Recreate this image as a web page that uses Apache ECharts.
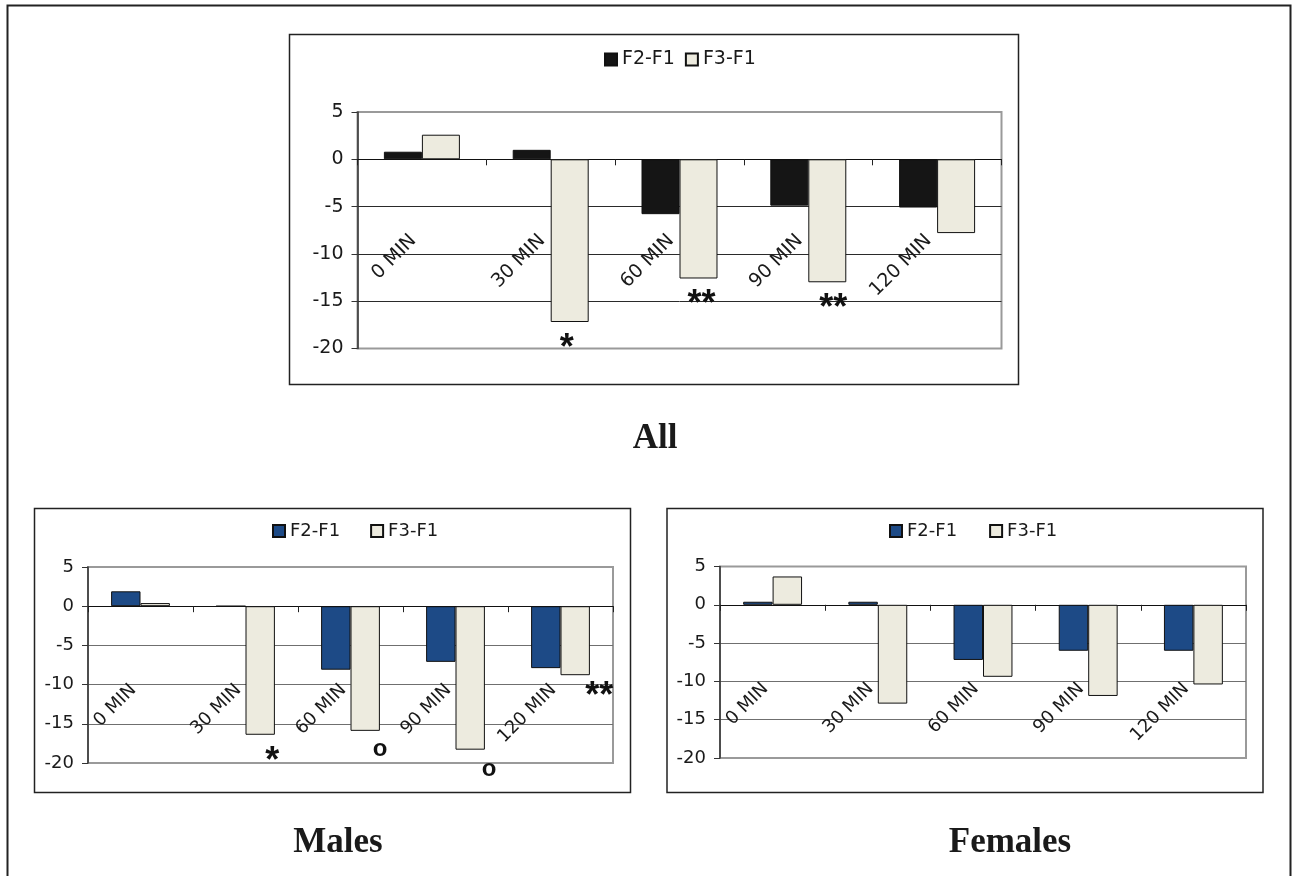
<!DOCTYPE html>
<html>
<head>
<meta charset="utf-8">
<style>
  html, body { margin: 0; padding: 0; background: #fff; }
  #c { width: 1292px; height: 876px; }
</style>
<script src="https://cdn.jsdelivr.net/npm/echarts@6/dist/echarts.min.js"></script>
</head>
<body>
<div id="c"></div>
<script>
// ---- data ----
const categories = ['0 MIN', '30 MIN', '60 MIN', '90 MIN', '120 MIN'];
const seriesNames = ['F2-F1', 'F3-F1'];
const yTicks = [-20, -15, -10, -5, 0, 5];

const allF2 = [0.8, 1.0, -5.8, -4.9, -5.1];
const allF3 = [2.6, -17.2, -12.6, -13.0, -7.8];
const maleF2 = [1.9, 0, -8.1, -7.1, -7.9];
const maleF3 = [0.4, -16.4, -15.9, -18.3, -8.8];
const femaleF2 = [0.4, 0.4, -7.2, -6.0, -6.0];
const femaleF3 = [3.7, -12.9, -9.4, -11.9, -10.4];

const allMarks = ['', '*', '**', '**', ''];
const maleMarks = ['', '*', 'o', 'o', '**'];
const femaleMarks = ['', '', '', '', ''];

const panelTitles = ['All', 'Males', 'Females'];

// ---- styles / layout ----
const FONT = 'DejaVu Sans, Verdana, sans-serif';
const MARKFONT = 'Liberation Sans, Arial, sans-serif';
const SERIF = 'Liberation Serif, Times New Roman, serif';
const BEIGE = '#edebdf';

const panels = [
  { key: 'All', f2: allF2, f3: allF3, marks: allMarks, f2Color: '#151515',
    grid: { left: 357.5, top: 112, width: 644, height: 236.5 },
    fs: 19, labelGap: 70, labelPad: 12, grid2: '#2a2a2a', gap: '41%',
    legend: { left: 599, top: 45, itemGap: 10 },
    markOffsets: [null, [-3, 7], [3, 7], [6, 7], null] },
  { key: 'Males', f2: maleF2, f3: maleF3, marks: maleMarks, f2Color: '#1d4a86',
    grid: { left: 88, top: 567, width: 525, height: 196 },
    fs: 18, labelGap: 74, labelPad: 10, grid2: '#6f6f6f', gap: '44%',
    legend: { left: 267, top: 517, itemGap: 30 },
    markOffsets: [null, [12, 7], [15, 3], [19, 4], [24, 2]] },
  { key: 'Females', f2: femaleF2, f3: femaleF3, marks: femaleMarks, f2Color: '#1d4a86',
    grid: { left: 720, top: 566.5, width: 526, height: 191.5 },
    fs: 18, labelGap: 74, labelPad: 10, grid2: '#6f6f6f', gap: '44%',
    legend: { left: 884, top: 517, itemGap: 32 },
    markOffsets: [null, null, null, null, null] }
];

const yMin = yTicks[0], yMax = yTicks[yTicks.length - 1];
const grids = [], xAxes = [], yAxes = [], series = [], legends = [];

panels.forEach((p, i) => {
  grids.push(Object.assign({ show: true, borderColor: '#9a9a9a', borderWidth: 2, backgroundColor: 'transparent',
    outerBoundsMode: 'none', containLabel: false }, p.grid));
  // labels hang from the zero line: convert gap below zero into a margin from the grid bottom
  const zeroToBottom = p.grid.height * (0 - yMin) / (yMax - yMin);
  xAxes.push({
    type: 'category', gridIndex: i, data: categories,
    axisLine: { onZero: true, lineStyle: { color: '#111', width: 1 } },
    axisTick: { show: true, length: 6, lineStyle: { color: '#222' } },
    axisLabel: { interval: 0, rotate: 45, margin: p.labelGap - zeroToBottom, padding: [0, p.labelPad, 0, 0],
      fontSize: p.fs, color: '#1a1a1a', fontFamily: FONT },
    splitLine: { show: false }
  });
  const splitColors = yTicks.map((t, k) => (k === 0 || k === yTicks.length - 1) ? '#9a9a9a' : p.grid2);
  yAxes.push({
    type: 'value', gridIndex: i, min: yMin, max: yMax, interval: 5,
    axisLine: { show: true, lineStyle: { color: '#333', width: 1.5 } },
    axisTick: { show: true, length: 6, lineStyle: { color: '#333' } },
    axisLabel: { margin: 14, fontSize: p.fs, color: '#1a1a1a', fontFamily: FONT },
    splitLine: { show: true, lineStyle: { color: splitColors, width: 1 } }
  });
  const n2 = p.key + '|' + seriesNames[0];
  const n3 = p.key + '|' + seriesNames[1];
  series.push({
    name: n2, type: 'bar', xAxisIndex: i, yAxisIndex: i, data: p.f2,
    barGap: '0%', barCategoryGap: p.gap,
    itemStyle: { color: p.f2Color, borderColor: '#111', borderWidth: 1 },
    emphasis: { disabled: true }
  });
  series.push({
    name: n3, type: 'bar', xAxisIndex: i, yAxisIndex: i,
    barGap: '0%', barCategoryGap: p.gap,
    data: p.f3.map((v, k) => {
      const m = p.marks[k];
      if (!m) return v;
      const isO = m === 'o';
      return {
        value: v,
        label: {
          show: true, formatter: m, position: 'bottom', distance: isO ? 4 : 2,
          offset: p.markOffsets[k] || [0, 0],
          fontSize: isO ? 24 : 36, fontWeight: 'bold', color: '#111', fontFamily: MARKFONT
        }
      };
    }),
    itemStyle: { color: BEIGE, borderColor: '#111', borderWidth: 1 },
    emphasis: { disabled: true }
  });
  legends.push({
    data: [n2, n3], left: p.legend.left, top: p.legend.top, itemGap: p.legend.itemGap,
    itemWidth: 12, itemHeight: 12, icon: 'rect', selectedMode: false,
    formatter: name => name.split('|')[1],
    textStyle: { fontSize: p.fs, color: '#1a1a1a', fontFamily: FONT }
  });
});

const chart = echarts.init(document.getElementById('c'), null, { renderer: 'canvas', width: 1292, height: 876 });
chart.setOption({
  animation: false,
  backgroundColor: '#fff',
  grid: grids, xAxis: xAxes, yAxis: yAxes, series: series, legend: legends,
  graphic: [
    { type: 'polyline', silent: true, shape: { points: [[7.5, 876], [7.5, 5.5], [1290.5, 5.5], [1290.5, 876]] },
      style: { fill: null, stroke: '#222', lineWidth: 2 } },
    { type: 'rect', silent: true, shape: { x: 289.5, y: 34.5, width: 729, height: 350 },
      style: { fill: null, stroke: '#222', lineWidth: 1.5 } },
    { type: 'rect', silent: true, shape: { x: 34.5, y: 508.5, width: 596, height: 284 },
      style: { fill: null, stroke: '#222', lineWidth: 1.5 } },
    { type: 'rect', silent: true, shape: { x: 667, y: 508.5, width: 596, height: 284 },
      style: { fill: null, stroke: '#222', lineWidth: 1.5 } },
    { type: 'text', silent: true, x: 655, y: 439,
      style: { text: panelTitles[0], font: 'bold 35px ' + SERIF, fill: '#1a1a1a', align: 'center', verticalAlign: 'middle' } },
    { type: 'text', silent: true, x: 338, y: 843,
      style: { text: panelTitles[1], font: 'bold 35px ' + SERIF, fill: '#1a1a1a', align: 'center', verticalAlign: 'middle' } },
    { type: 'text', silent: true, x: 1010, y: 843,
      style: { text: panelTitles[2], font: 'bold 35px ' + SERIF, fill: '#1a1a1a', align: 'center', verticalAlign: 'middle' } }
  ]
});
</script>
</body>
</html>
